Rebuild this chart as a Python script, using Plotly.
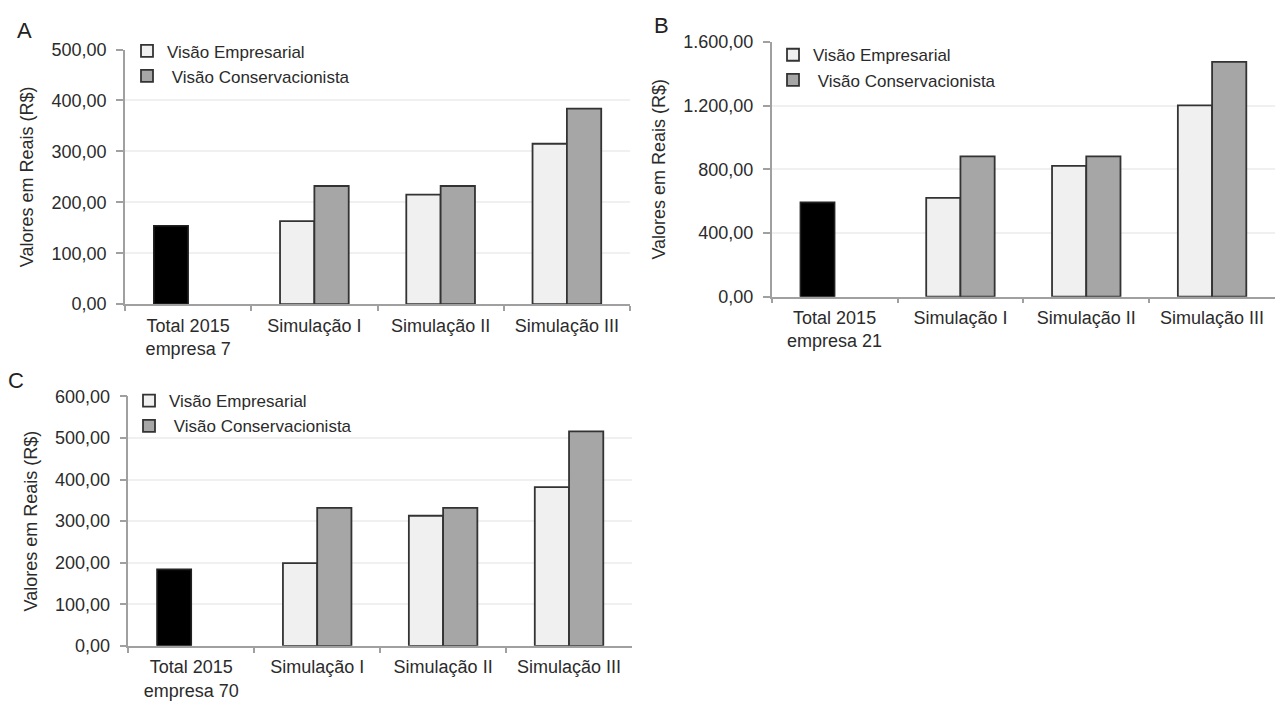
import plotly.graph_objects as go

# Categories shared by the three panels
categorias_a = ["Total 2015<br>empresa 7", "Simulação I", "Simulação II", "Simulação III"]
categorias_b = ["Total 2015<br>empresa 21", "Simulação I", "Simulação II", "Simulação III"]
categorias_c = ["Total 2015<br>empresa 70", "Simulação I", "Simulação II", "Simulação III"]

# Panel A (empresa 7)
total_a = [154]
empresarial_a = [163, 215, 315]
conservacionista_a = [232, 232, 384]

# Panel B (empresa 21)
total_b = [592]
empresarial_b = [620, 821, 1201]
conservacionista_b = [881, 881, 1474]

# Panel C (empresa 70)
total_c = [184]
empresarial_c = [199, 313, 382]
conservacionista_c = [332, 332, 516]

FONT = "Liberation Sans, Arial, sans-serif"
TXT = "#2b2b2b"
W = 0.272  # bar width as a fraction of the category slot

fig = go.Figure()

panels = [
    ("x", "y", "legend", categorias_a, total_a, empresarial_a, conservacionista_a),
    ("x2", "y2", "legend2", categorias_b, total_b, empresarial_b, conservacionista_b),
    ("x3", "y3", "legend3", categorias_c, total_c, empresarial_c, conservacionista_c),
]

for xa, ya, lg, cats, tot, emp, cons in panels:
    fig.add_trace(go.Bar(
        x=cats[:1], y=tot, xaxis=xa, yaxis=ya, name="Total 2015",
        width=W, offset=-W, showlegend=False,
        marker=dict(color="#000000", line=dict(color="#222222", width=1.6)),
    ))
    fig.add_trace(go.Bar(
        x=cats[1:], y=emp, xaxis=xa, yaxis=ya, name="Visão Empresarial",
        width=W, offset=-W, legend=lg, legendgroup="emp" + xa,
        marker=dict(color="#f0f0f0", line=dict(color="#333333", width=1.8)),
    ))
    fig.add_trace(go.Bar(
        x=cats[1:], y=cons, xaxis=xa, yaxis=ya, name=" Visão Conservacionista",
        width=W, offset=0, legend=lg, legendgroup="cons" + xa,
        marker=dict(color="#a6a6a6", line=dict(color="#333333", width=1.8)),
    ))

H, Wd = 709, 1276


def px_x(p):
    return p / Wd


def px_y(p):
    return (H - p) / H


def xaxis(dom, cats, anchor):
    return dict(
        domain=[px_x(dom[0]), px_x(dom[1])], anchor=anchor,
        type="category", categoryorder="array", categoryarray=cats,
        range=[-0.5, 3.5], showgrid=False,
        showline=True, linecolor="#a0a0a0", linewidth=1.5,
        ticks="outside", tickson="boundaries", ticklen=5, tickcolor="#a0a0a0", tickwidth=1.5,
        ticklabelstandoff=4,
        tickfont=dict(family=FONT, size=18, color=TXT),
        fixedrange=True,
    )


def yaxis(dom, rng, dt, anchor):
    return dict(
        domain=[px_y(dom[1]), px_y(dom[0])], anchor=anchor,
        range=[0, rng], dtick=dt, tick0=0, tickformat=",.2f",
        showgrid=True, gridcolor="#f0f0f0", gridwidth=1.5, zeroline=False,
        showline=True, linecolor="#a0a0a0", linewidth=1.5,
        ticks="outside", ticklen=7, tickcolor="#a0a0a0", tickwidth=1.5,
        ticklabelstandoff=6,
        tickfont=dict(family=FONT, size=18, color=TXT),
        title=dict(text="Valores em Reais (R$)", font=dict(family=FONT, size=18, color=TXT), standoff=13),
        fixedrange=True,
    )


def legend(xp, yp):
    return dict(
        x=px_x(xp), y=px_y(yp), xanchor="left", yanchor="top",
        bgcolor="rgba(0,0,0,0)", borderwidth=0,
        font=dict(family=FONT, size=17, color=TXT),
        traceorder="grouped", tracegroupgap=0, itemwidth=30,
        itemclick=False, itemdoubleclick=False,
    )


def letra(txt, xp, yp):
    return dict(text=txt, x=px_x(xp), y=px_y(yp), xref="paper", yref="paper",
                xanchor="center", yanchor="middle", showarrow=False,
                font=dict(family=FONT, size=22, color="#222222"))


fig.update_layout(
    width=Wd, height=H,
    margin=dict(l=0, r=0, t=0, b=0),
    paper_bgcolor="white", plot_bgcolor="white",
    separators=",.",
    barmode="overlay",
    showlegend=True,
    xaxis=xaxis((125, 630), categorias_a, "y"),
    yaxis=yaxis((40.7, 302.7), 500, 100, "x"),
    xaxis2=xaxis((771.7, 1275), categorias_b, "y2"),
    yaxis2=yaxis((32.7, 295), 1600, 400, "x2"),
    xaxis3=xaxis((128.3, 632), categorias_c, "y3"),
    yaxis3=yaxis((397.7, 654.3), 600, 100, "x3"),
    legend=legend(127, 24),
    legend2=legend(773, 28),
    legend3=legend(129, 384),
    annotations=[
        letra("A", 24, 21),
        letra("B", 661, 16),
        letra("C", 16, 381),
    ],
)

fig.write_html("out.html")
